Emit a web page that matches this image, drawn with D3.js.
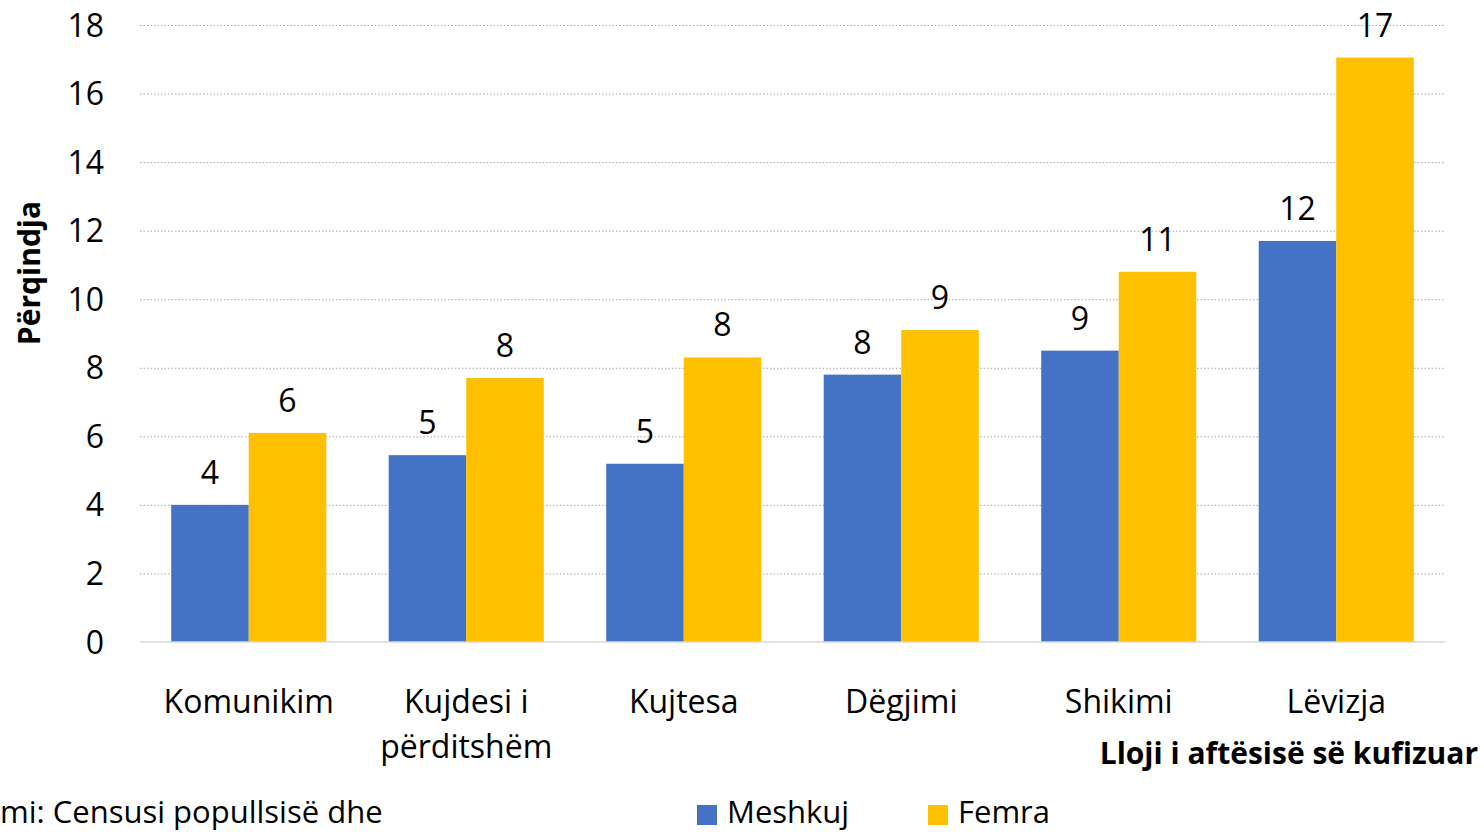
<!DOCTYPE html>
<html>
<head>
<meta charset="utf-8">
<script src="https://cdn.jsdelivr.net/npm/d3@7"></script>
<style>
  body { margin: 0; background: #fff; }
  svg { display: block; font-family: "Open Sans", "Noto Sans", sans-serif; }
  .grid line { stroke: #a6a6a6; stroke-dasharray: 1.5 2; }
  .grid path { display: none; }
</style>
</head>
<body>
<svg width="1484" height="832"></svg>
<script>
// categorieen en waarden (procent)
const categories = [["Komunikim"], ["Kujdesi i", "përditshëm"], ["Kujtesa"], ["Dëgjimi"], ["Shikimi"], ["Lëvizja"]];
const seriesNames = ["Meshkuj", "Femra"];
const meshkuj = [4.0, 5.45, 5.2, 7.8, 8.5, 11.7];
const femra = [6.1, 7.7, 8.3, 9.1, 10.8, 17.05];
const yTicks = [0, 2, 4, 6, 8, 10, 12, 14, 16, 18];
const colors = ["#4472C4", "#FFC000"];

const svg = d3.select("svg");
const plotLeft = 140, plotRight = 1445, plotTop = 25, plotBottom = 642;

const x = d3.scaleBand()
  .domain(categories.map((c, i) => i))
  .range([plotLeft, plotRight])
  .paddingInner(0.287)
  .paddingOuter(0.1435);

const xInner = d3.scaleBand()
  .domain(seriesNames)
  .range([0, x.bandwidth()]);

const y = d3.scaleLinear().domain([0, 18]).range([plotBottom, plotTop]);

// grid
svg.append("g")
  .attr("class", "grid")
  .attr("transform", `translate(${plotLeft},0)`)
  .call(d3.axisLeft(y).tickValues(yTicks.slice(1)).tickSize(-(plotRight - plotLeft)).tickFormat(""));

// y tick labels
svg.append("g")
  .selectAll("text")
  .data(yTicks)
  .join("text")
  .attr("x", 104)
  .attr("y", d => y(d))
  .attr("dy", "0.36em")
  .attr("text-anchor", "end")
  .style("font-size", "32px")
  .text(d => d);

// bars
const rows = categories.map((c, i) => ({ i, vals: [meshkuj[i], femra[i]] }));
const grp = svg.append("g").selectAll("g")
  .data(rows)
  .join("g")
  .attr("transform", d => `translate(${x(d.i)},0)`);

grp.selectAll("rect")
  .data(d => d.vals.map((v, k) => ({ k, v })))
  .join("rect")
  .attr("x", d => xInner(seriesNames[d.k]))
  .attr("y", d => y(d.v))
  .attr("width", xInner.bandwidth())
  .attr("height", d => y(0) - y(d.v))
  .attr("fill", d => colors[d.k]);

grp.selectAll("text.val")
  .data(d => d.vals.map((v, k) => ({ k, v })))
  .join("text")
  .attr("class", "val")
  .attr("x", d => xInner(seriesNames[d.k]) + xInner.bandwidth() / 2)
  .attr("y", d => y(d.v) - 21)
  .attr("text-anchor", "middle")
  .style("font-size", "32px")
  .text(d => Math.round(d.v));

// baseline
svg.append("line")
  .attr("x1", plotLeft).attr("x2", plotRight)
  .attr("y1", y(0)).attr("y2", y(0))
  .attr("stroke", "#d9d9d9")
  .attr("stroke-width", 1.5);

// category labels
const catText = svg.append("g").selectAll("text")
  .data(categories)
  .join("text")
  .attr("x", (d, i) => x(i) + x.bandwidth() / 2)
  .attr("y", 713)
  .attr("text-anchor", "middle")
  .style("font-size", "32px");
catText.selectAll("tspan")
  .data(d => d)
  .join("tspan")
  .attr("x", function () { return this.parentNode.getAttribute("x"); })
  .attr("dy", (d, j) => j === 0 ? 0 : 45)
  .text(d => d);

// as titels
svg.append("text")
  .attr("transform", "translate(40,273) rotate(-90)")
  .attr("text-anchor", "middle")
  .style("font-size", "30px")
  .style("font-weight", "bold")
  .text("Përqindja");

svg.append("text")
  .attr("x", 1478)
  .attr("y", 764)
  .attr("text-anchor", "end")
  .style("font-size", "30px")
  .style("font-weight", "bold")
  .text("Lloji i aftësisë së kufizuar");

// bron
svg.append("text")
  .attr("x", 0)
  .attr("y", 823)
  .style("font-size", "31px")
  .text("mi: Censusi popullsisë dhe");

// legenda
const legend = svg.append("g").selectAll("g")
  .data(seriesNames)
  .join("g")
  .attr("transform", (d, i) => `translate(${[697, 928][i]},805)`);
legend.append("rect")
  .attr("width", 20).attr("height", 20)
  .attr("fill", (d, i) => colors[i]);
legend.append("text")
  .attr("x", 30)
  .attr("y", 18)
  .style("font-size", "31px")
  .text(d => d);
</script>
</body>
</html>
